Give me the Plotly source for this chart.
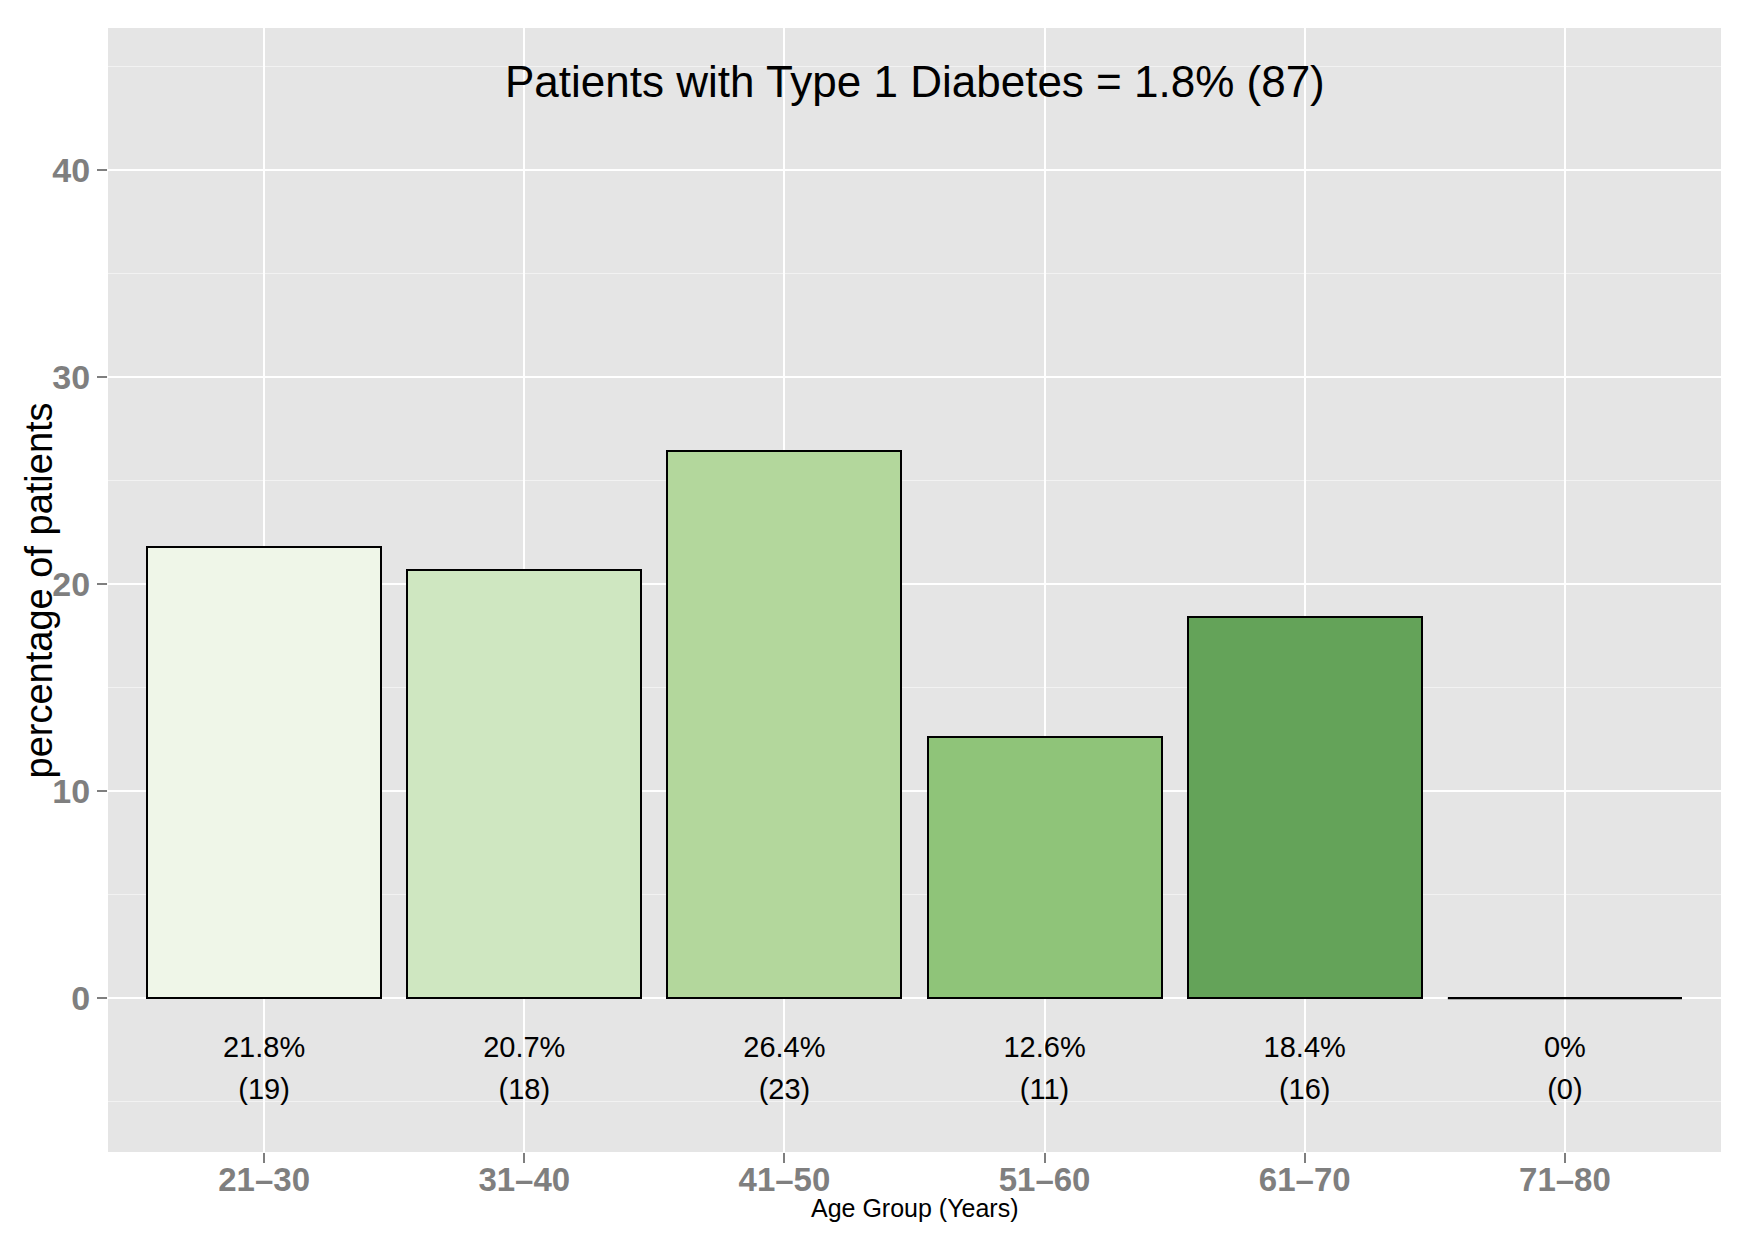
import plotly.graph_objects as go

# ---- data ----
age_groups = ["21–30", "31–40", "41–50", "51–60", "61–70", "71–80"]
percentages = [21.8, 20.7, 26.4, 12.6, 18.4, 0.0]
counts = [19, 18, 23, 11, 16, 0]
pct_labels = ["21.8%", "20.7%", "26.4%", "12.6%", "18.4%", "0%"]
count_labels = ["(19)", "(18)", "(23)", "(11)", "(16)", "(0)"]
bar_colors = ["#EFF6E8", "#CFE7C1", "#B3D79C", "#8FC479", "#64A359", "#3E8745"]
title_text = "Patients with Type 1 Diabetes = 1.8% (87)"
y_ticks = [0, 10, 20, 30, 40]
y_minor = [-5, 5, 15, 25, 35, 45]
pct_label_y = -2.5
count_label_y = -4.5

FONT = "Liberation Sans, Arial, Helvetica, sans-serif"
xpos = list(range(len(age_groups)))
BAR_W = 0.9

fig = go.Figure()
fig.add_trace(go.Bar(
    x=xpos, y=percentages, width=BAR_W,
    marker=dict(color=bar_colors, line=dict(color="black", width=2)),
    showlegend=False, hoverinfo="skip",
))

# zero-height bars drawn as outline
for i, v in enumerate(percentages):
    if v == 0:
        fig.add_trace(go.Scatter(
            x=[xpos[i] - BAR_W / 2, xpos[i] + BAR_W / 2], y=[v, v],
            mode="lines", line=dict(color="black", width=2),
            showlegend=False, hoverinfo="skip",
        ))

fig.add_trace(go.Scatter(
    x=xpos, y=[pct_label_y] * len(xpos), text=pct_labels, mode="text",
    textfont=dict(family=FONT, size=29, color="black"),
    showlegend=False, hoverinfo="skip",
))
fig.add_trace(go.Scatter(
    x=xpos, y=[count_label_y] * len(xpos), text=count_labels, mode="text",
    textfont=dict(family=FONT, size=29, color="black"),
    showlegend=False, hoverinfo="skip",
))

fig.update_layout(
    width=1752, height=1239,
    margin=dict(l=100, r=39, t=20, b=95),
    paper_bgcolor="white", plot_bgcolor="#E5E5E5",
    bargap=0,
    xaxis=dict(
        range=[-0.6, 5.6], tickmode="array", tickvals=xpos, ticktext=age_groups,
        showgrid=True, gridcolor="white", gridwidth=2, zeroline=False,
        ticks="outside", ticklen=10, tickwidth=2, tickcolor="#7F7F7F",
        tickfont=dict(family=FONT, size=33, color="#7F7F7F", weight="bold"),
        ticklabelstandoff=-12,
        showline=False,
    ),
    yaxis=dict(
        range=[-7.43, 46.85], tickmode="array", tickvals=y_ticks,
        showgrid=True, gridcolor="white", gridwidth=2, zeroline=False,
        ticks="outside", ticklen=10, tickwidth=2, tickcolor="#7F7F7F",
        tickfont=dict(family=FONT, size=34, color="#7F7F7F", weight="bold"),
        minor=dict(tickmode="array", tickvals=y_minor, showgrid=True,
                   gridcolor="#F2F2F2", gridwidth=1, ticks=""),
        showline=False,
    ),
    annotations=[
        dict(text=title_text, xref="paper", yref="paper", x=0.5, y=0.952,
             xanchor="center", yanchor="middle", showarrow=False,
             font=dict(family=FONT, size=44, color="black")),
        dict(text="Age Group (Years)", xref="paper", yref="paper", x=0.5, y=-0.0495,
             xanchor="center", yanchor="middle", showarrow=False,
             font=dict(family=FONT, size=25, color="black")),
        dict(text="percentage of patients", xref="paper", yref="paper", x=-0.0425, y=0.5,
             xanchor="center", yanchor="middle", showarrow=False, textangle=-90,
             font=dict(family=FONT, size=38, color="black")),
    ],
)

fig.write_html("out.html")
